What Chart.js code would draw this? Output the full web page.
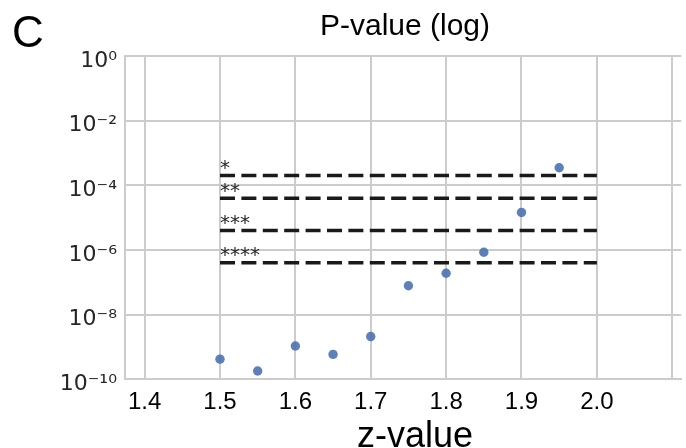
<!DOCTYPE html>
<html>
<head>
<meta charset="utf-8">
<script src="https://cdn.jsdelivr.net/npm/chart.js@4/dist/chart.umd.min.js"></script>
<style>
    html, body { margin: 0; padding: 0; background: #fff; }
    #wrap { width: 686px; height: 448px; position: relative; }
</style>
</head>
<body>
<div id="wrap"><canvas id="pvalue-chart" width="686" height="448"></canvas></div>
<script>
// datos
const zValues = [1.5, 1.55, 1.6, 1.65, 1.7, 1.75, 1.8, 1.85, 1.9, 1.95];
const pValues = [4.2e-10, 1.8e-10, 1.07e-9, 5.9e-10, 2.1e-9, 7.8e-8, 1.9e-7, 8.5e-7, 1.45e-5, 3.5e-4];

const thresholds = [2.0e-4, 4.0e-5, 4.0e-6, 4.0e-7];
const thresholdLabels = ["*", "**", "***", "****"];
const thresholdStart = 1.5;
const thresholdEnd = 2.0;

const xTicks = [1.4, 1.5, 1.6, 1.7, 1.8, 1.9, 2.0, 2.1];
const xTickLabels = ["1.4", "1.5", "1.6", "1.7", "1.8", "1.9", "2.0", ""];
const yTicks = [1, 1e-2, 1e-4, 1e-6, 1e-8, 1e-10];
const yTickLabels = ["10\u2070", "10\u207B\u00B2", "10\u207B\u2074", "10\u207B\u2076", "10\u207B\u2078", "10\u207B\u00B9\u2070"];

const gridColor = "#cccccc";
const textColor = "#262626";

// textos sueltos: letra del panel, titulo, etiqueta del eje x y asteriscos
const annotationsPlugin = {
    id: "annotations",
    afterDatasetsDraw(chart) {
        const ctx = chart.ctx;
        const x = chart.scales.x;
        const y = chart.scales.y;
        ctx.save();

        ctx.fillStyle = textColor;
        ctx.font = "20px 'DejaVu Sans'";
        ctx.textAlign = "left";
        ctx.textBaseline = "alphabetic";
        thresholds.forEach((t, i) => {
            ctx.fillText(thresholdLabels[i], x.getPixelForValue(thresholdStart), y.getPixelForValue(t) - 1.5);
        });

        ctx.fillStyle = "#000";
        ctx.font = "44px 'Liberation Sans'";
        ctx.fillText("C", 12, 47);

        ctx.textAlign = "center";
        ctx.font = "30px 'Liberation Sans'";
        ctx.fillText("P-value (log)", 405, 35);

        ctx.font = "36px 'Liberation Sans'";
        ctx.fillText("z-value", 415, 446.5);

        ctx.restore();
    },
};

const scatterData = zValues.map((z, i) => ({ x: z, y: pValues[i] }));

const lineDatasets = thresholds.map((t) => ({
    type: "line",
    data: [
        { x: thresholdStart, y: t },
        { x: thresholdEnd, y: t },
    ],
    borderColor: "#1a1a1a",
    borderWidth: 3.5,
    borderDash: [15, 6.4],
    borderCapStyle: "butt",
    pointRadius: 0,
    fill: false,
    order: 2,
}));

new Chart(document.getElementById("pvalue-chart"), {
    type: "scatter",
    data: {
        datasets: [
            {
                data: scatterData,
                backgroundColor: "rgba(76, 114, 176, 0.9)",
                borderWidth: 0,
                pointRadius: 4.7,
                order: 1,
            },
            ...lineDatasets,
        ],
    },
    options: {
        responsive: false,
        animation: false,
        devicePixelRatio: 1,
        layout: { padding: { top: 56, right: 0, left: 0, bottom: 0 } },
        plugins: {
            legend: { display: false },
            tooltip: { enabled: false },
            title: { display: false },
        },
        scales: {
            x: {
                type: "linear",
                min: 1.374,
                max: 2.112,
                afterBuildTicks: (scale) => {
                    scale.ticks = xTicks.map((v) => ({ value: v }));
                },
                afterFit: (scale) => {
                    scale.height = 68.7;
                },
                ticks: {
                    callback: (value, index) => xTickLabels[index],
                    color: "#000",
                    font: { family: "'Liberation Sans'", size: 24 },
                    padding: 9,
                    maxRotation: 0,
                    autoSkip: false,
                },
                grid: { color: gridColor, lineWidth: 2, drawTicks: false },
                border: { color: gridColor, width: 2 },
            },
            y: {
                type: "logarithmic",
                min: 1e-10,
                max: 1,
                afterBuildTicks: (scale) => {
                    scale.ticks = yTicks.map((v) => ({ value: v }));
                },
                afterFit: (scale) => {
                    scale.width = 125;
                },
                ticks: {
                    callback: (value, index) => yTickLabels[index],
                    color: textColor,
                    font: { family: "'DejaVu Sans'", size: 22 },
                    padding: 8,
                    labelOffset: 5,
                    autoSkip: false,
                },
                grid: { color: gridColor, lineWidth: 2, drawTicks: false },
                border: { color: gridColor, width: 2 },
            },
        },
    },
    plugins: [annotationsPlugin],
});
</script>
</body>
</html>
